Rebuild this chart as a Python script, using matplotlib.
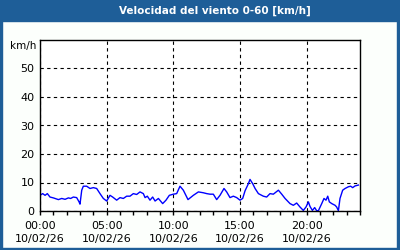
import matplotlib.pyplot as plt
from matplotlib.patches import Rectangle
from matplotlib.ticker import MultipleLocator

# hours since 00:00 and wind speed (km/h)
hours = [0.0, 0.2, 0.38, 0.55, 0.75, 1.0, 1.38, 1.63, 1.88, 2.13,
         2.3, 2.5, 2.75, 2.93, 3.0, 3.13, 3.25, 3.5, 3.75, 4.0,
         4.25, 4.5, 4.75, 5.0, 5.25, 5.45, 5.75, 6.0, 6.25, 6.5,
         6.75, 7.0, 7.25, 7.5, 7.75, 7.88, 8.05, 8.25, 8.45, 8.63,
         8.88, 9.2, 9.45, 9.7, 10.0, 10.25, 10.5, 10.75, 11.1, 11.5,
         11.88, 12.25, 12.5, 12.75, 13.0, 13.25, 13.5, 13.8, 14.0, 14.25,
         14.5, 14.75, 15.0, 15.2, 15.38, 15.63, 15.75, 15.95, 16.13, 16.38,
         16.75, 17.0, 17.25, 17.5, 17.88, 18.13, 18.38, 18.75, 19.0, 19.25,
         19.5, 19.75, 19.95, 20.13, 20.25, 20.43, 20.6, 20.75, 20.88, 21.13,
         21.3, 21.45, 21.58, 21.7, 21.88, 22.13, 22.25, 22.38, 22.5, 22.7,
         22.88, 23.13, 23.3, 23.45, 23.63, 23.88]
speed = [5.5, 6.1, 5.5, 6.1, 4.9, 4.6, 4.0, 4.4, 4.1, 4.6,
         4.4, 4.9, 4.7, 3.2, 2.4, 7.3, 8.7, 8.7, 7.9, 8.2,
         7.9, 6.1, 4.4, 3.5, 5.5, 4.9, 3.8, 4.7, 4.4, 5.2,
         5.2, 6.1, 5.8, 6.7, 6.1, 4.7, 5.2, 3.8, 4.9, 3.5,
         4.4, 2.6, 3.8, 5.5, 5.9, 6.1, 8.7, 7.3, 4.0, 5.5,
         6.7, 6.4, 6.1, 5.9, 5.9, 4.0, 5.5, 7.9, 6.7, 4.7,
         5.2, 4.7, 3.8, 4.4, 7.1, 9.6, 11.1, 9.6, 7.9, 6.1,
         5.2, 4.9, 6.1, 5.9, 7.3, 5.9, 4.4, 2.6, 2.0, 2.8,
         1.4, 0.2, 1.4, 3.2, 1.6, 0.2, 1.2, 0.1, 0.1, 2.6,
         4.4, 3.8, 5.2, 3.2, 2.6, 2.0, 1.4, 0.1, 4.4, 7.3,
         7.9, 8.5, 8.7, 8.2, 8.8, 9.1]

tick_hours = [0, 5, 10, 15, 20]
tick_labels = ["00:00\n10/02/26", "05:00\n10/02/26", "10:00\n10/02/26",
               "15:00\n10/02/26", "20:00\n10/02/26"]

frame_blue = "#1e5e98"

fig = plt.figure(figsize=(4, 2.5), dpi=100, facecolor="#fcfffc")
ax = fig.add_axes([0.1, 0.156, 0.8, 0.684])

ax.plot(hours, speed, color="#0000ff", linewidth=1)

ax.set_xlim(0, 24)
ax.set_ylim(0, 60)
ax.set_xticks(tick_hours)
ax.set_xticklabels(tick_labels, fontsize=8, linespacing=1.4)
ax.xaxis.set_minor_locator(MultipleLocator(1))
ax.set_yticks([0, 10, 20, 30, 40, 50])
ax.tick_params(axis="x", which="both", direction="out", length=3, width=1, pad=4)
ax.tick_params(axis="y", length=0, pad=4, labelsize=8)
ax.grid(True, color="black", linestyle=(0, (3, 3)), linewidth=0.8)
for s in ax.spines.values():
    s.set_linewidth(1)
ax.text(-0.01, 0.965, "km/h", transform=ax.transAxes, fontsize=7.5,
        ha="right", va="center")

# title bar and blue frame
fig.patches.append(Rectangle((0, 1 - 20.5 / 250), 1, 20.5 / 250,
                             transform=fig.transFigure, color=frame_blue))
fig.patches.append(Rectangle((0, 0), 2 / 400, 1, transform=fig.transFigure,
                             color=frame_blue))
fig.patches.append(Rectangle((1 - 3 / 400, 0), 3 / 400, 1,
                             transform=fig.transFigure, color=frame_blue))
fig.patches.append(Rectangle((0, 0), 1, 2 / 250, transform=fig.transFigure,
                             color=frame_blue))
fig.text(215 / 400, 1 - 10.5 / 250, "Velocidad del viento 0-60 [km/h]",
         color="white", fontsize=7.5, fontweight="bold", ha="center", va="center")

fig.savefig("out.png", dpi=100, facecolor=fig.get_facecolor())
